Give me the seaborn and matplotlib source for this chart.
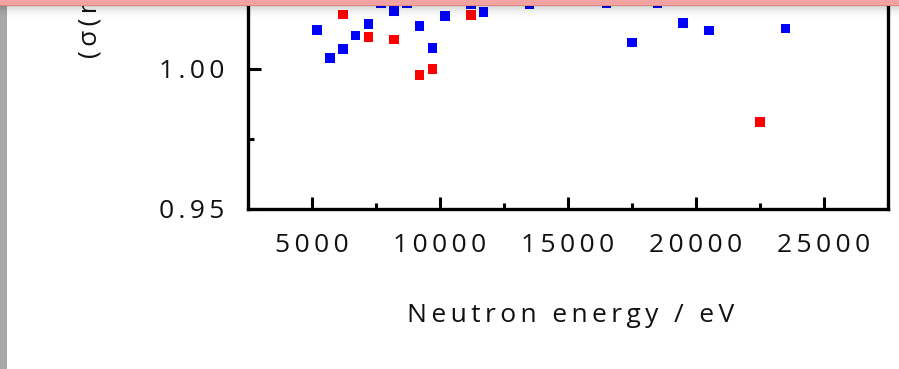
import matplotlib
matplotlib.use("Agg")
import matplotlib.pyplot as plt
from matplotlib.patches import Rectangle
from matplotlib.ticker import MultipleLocator, FixedLocator
import seaborn as sns
import pandas as pd

# ---- data ----
blue_energy = [5200, 5700, 6200, 6700, 7200, 7700, 8200, 8700, 9200, 9700,
               10200, 11200, 11700, 13500, 16500, 17500, 18500, 19500, 20500, 23500]
blue_ratio = [1.0140, 1.0039, 1.0071, 1.0120, 1.0160, 1.0236, 1.0207, 1.0234, 1.0154, 1.0076,
              1.0190, 1.0232, 1.0204, 1.0232, 1.0234, 1.0095, 1.0234, 1.0165, 1.0137, 1.0145]
red_energy = [6200, 7200, 8200, 9200, 9700, 11200, 22500]
red_ratio = [1.0195, 1.0114, 1.0106, 0.9978, 1.0001, 1.0192, 0.9811]

x_ticks = [5000, 10000, 15000, 20000, 25000]
y_ticks = [0.95, 1.00]
x_label = "Neutron energy / eV"
y_label = "(σ(n"

df = pd.DataFrame({
    "energy": blue_energy + red_energy,
    "ratio": blue_ratio + red_ratio,
    "series": ["blue"] * len(blue_energy) + ["red"] * len(red_energy),
})


def spaced(s):
    # letter-spaced text, as in the reference
    return "\u2009".join(s)


sns.set_style("ticks")
plt.rcParams["font.family"] = ["Open Sans", "DejaVu Sans"]

W, H = 899, 369
fig = plt.figure(figsize=(W / 100, H / 100), dpi=100)
ax = fig.add_axes([248 / W, 160 / H, 640 / W, 280 / H])

sns.scatterplot(data=df, x="energy", y="ratio", hue="series",
                palette={"blue": "#0000ff", "red": "#ff0000"},
                marker="s", s=48, linewidth=0, legend=False, ax=ax, zorder=3)

ax.set_xlim(2500, 27500)
ax.set_ylim(0.95, 1.05)
ax.xaxis.set_major_locator(FixedLocator(x_ticks))
ax.xaxis.set_minor_locator(MultipleLocator(2500))
ax.yaxis.set_major_locator(FixedLocator(y_ticks))
ax.yaxis.set_minor_locator(MultipleLocator(0.025))
ax.set_xticklabels([spaced(str(v)) for v in x_ticks])
ax.set_yticklabels([spaced(f"{v:.2f}") for v in y_ticks])

ax.tick_params(which="major", direction="in", length=9, width=2.2, color="black",
               labelsize=19, labelcolor="#111111")
ax.tick_params(which="minor", direction="in", length=4.5, width=2.2, color="black")
ax.tick_params(axis="x", which="major", pad=17)
ax.tick_params(axis="y", which="major", pad=17)
ax.tick_params(right=False, top=False, which="both")
for side in ["left", "bottom", "right", "top"]:
    ax.spines[side].set_linewidth(2.4)
    ax.spines[side].set_color("black")
ax.set_xlabel("")
ax.set_ylabel("")

fig.text(571 / W, 1 - 315 / H, spaced(x_label), ha="center", va="center",
         fontsize=19, color="#111111")
fig.text(90 / W, 1 - 58 / H, spaced(y_label), rotation=90, ha="center", va="bottom",
         fontsize=19, color="#111111")

# window chrome: grey strip on left and pink band on top
fig.patches.append(Rectangle((0, 0), 7 / W, 1, transform=fig.transFigure,
                             facecolor="#a8a8a8", edgecolor="none", zorder=5))
for i, a in enumerate([0.18, 0.12, 0.08, 0.05, 0.03, 0.015]):
    fig.patches.append(Rectangle((0, 1 - (5 + 2 * (i + 1)) / H), 1, 2 / H,
                                 transform=fig.transFigure, facecolor="black",
                                 alpha=a, edgecolor="none", zorder=6))
fig.patches.append(Rectangle((0, 1 - 5 / H), 1, 5 / H, transform=fig.transFigure,
                             facecolor="#f4a3a3", edgecolor="none", zorder=7))
fig.patches.append(Rectangle((0, 1 - 6 / H), 1, 1.5 / H, transform=fig.transFigure,
                             facecolor="#e28686", edgecolor="none", zorder=7))

fig.savefig("out.png", dpi=100)
